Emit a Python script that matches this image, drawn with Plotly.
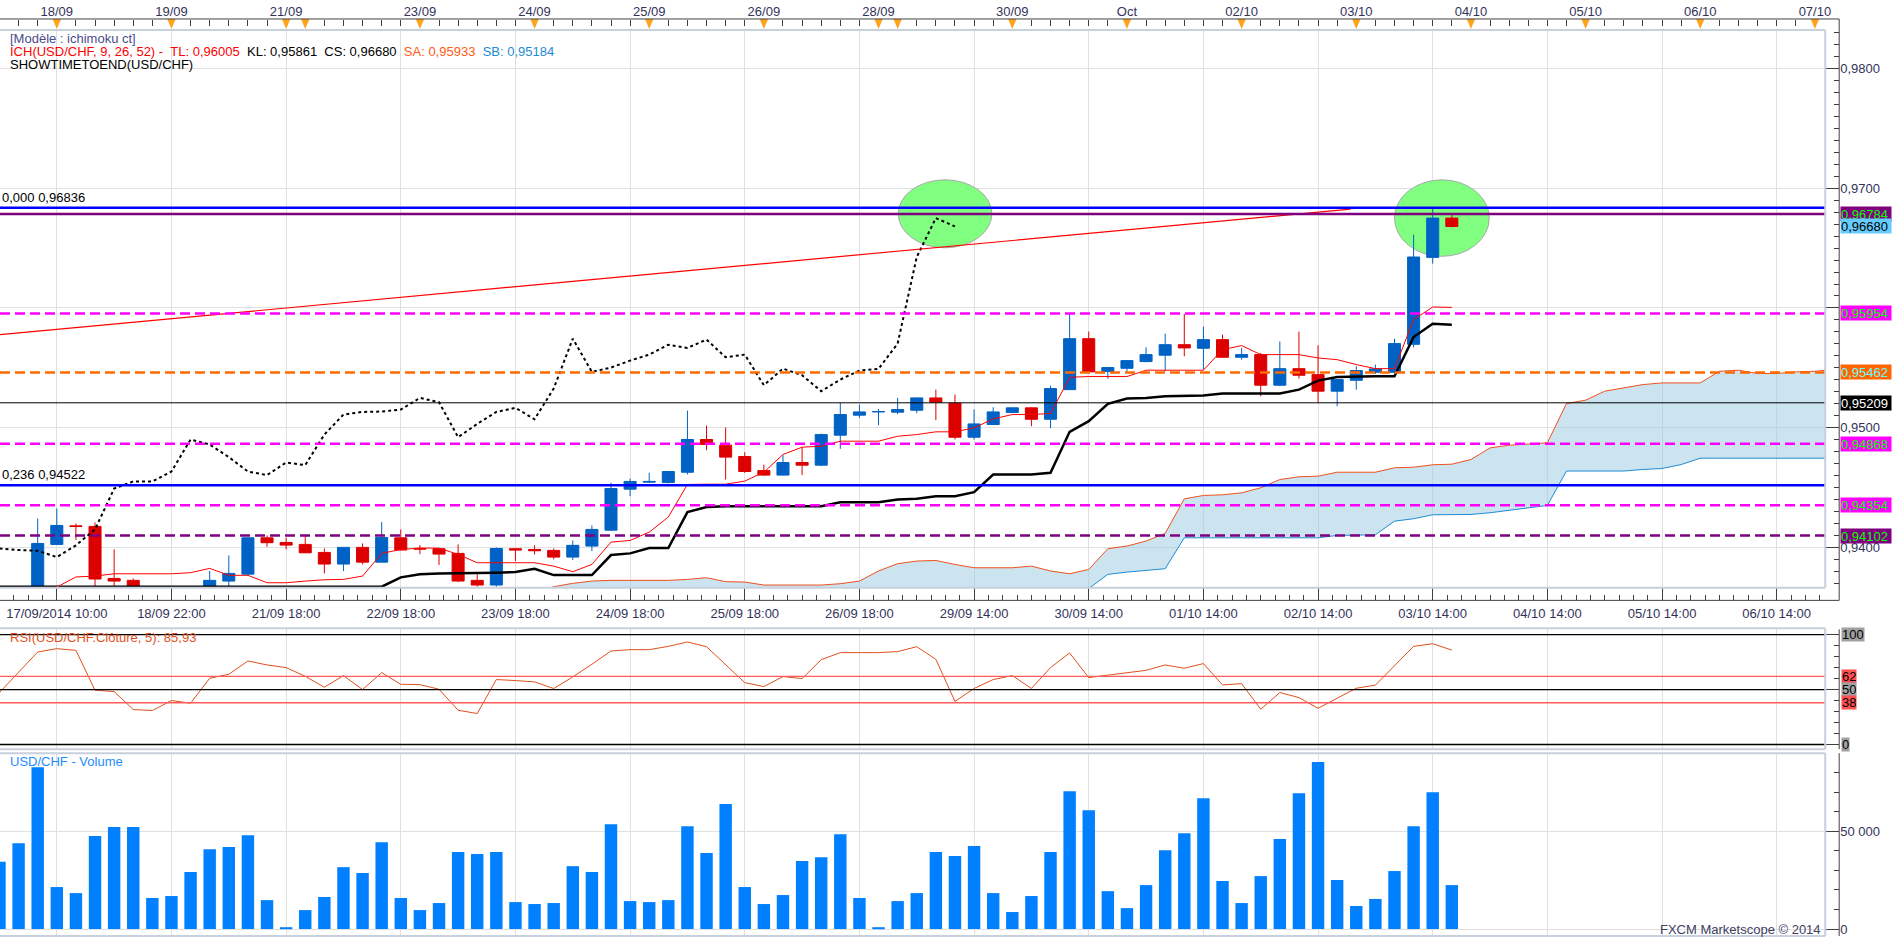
import plotly.graph_objects as go

W, H = 1903, 940

# 4h candles, bar index 0 = 17/09/2014 10:00 (last one = 03/10 18:00)
BARS = list(range(-3, 74))

OPEN = [0.9352, 0.9358, 0.9355,
        0.94028, 0.94183, 0.94178, 0.93744, 0.93728, 0.9365, 0.9356, 0.9361, 0.9368, 0.93722,
        0.9378, 0.94083, 0.94044, 0.94028, 0.93961, 0.93864, 0.94003, 0.9388, 0.94083, 0.93995,
        0.93992, 0.93953, 0.93728, 0.93689, 0.93992, 0.93986, 0.93978, 0.93922, 0.94014, 0.94147,
        0.94489, 0.94547, 0.94544, 0.9463, 0.94903, 0.94856, 0.94761, 0.94644, 0.94606, 0.94711,
        0.94689, 0.94939, 0.95106, 0.95133, 0.95131, 0.95147, 0.9525, 0.95206, 0.94922, 0.95028,
        0.95128, 0.95167, 0.95072, 0.95319, 0.95744, 0.9547, 0.95497, 0.95553, 0.95606, 0.95694,
        0.95664, 0.95736, 0.95589, 0.95611, 0.95356, 0.95494, 0.95444, 0.95306, 0.95397, 0.95464,
        0.95464, 0.95697, 0.96422, 0.9675]
HIGH = [0.9362, 0.9364, 0.94244,
        0.94328, 0.94203, 0.94211, 0.93986, 0.93744, 0.9366, 0.9364, 0.9366, 0.93806, 0.93936,
        0.94086, 0.94103, 0.94083, 0.94108, 0.93994, 0.94006, 0.94036, 0.94214, 0.94153, 0.94022,
        0.93995, 0.94028, 0.93778, 0.94003, 0.93994, 0.9402, 0.93994, 0.94061, 0.94186, 0.94542,
        0.94578, 0.94625, 0.9464, 0.95144, 0.95019, 0.95003, 0.94797, 0.94694, 0.94772, 0.94839,
        0.94953, 0.95208, 0.95194, 0.95158, 0.9525, 0.95253, 0.95319, 0.95278, 0.95153, 0.95172,
        0.9517, 0.9517, 0.95353, 0.9595, 0.95803, 0.95506, 0.95564, 0.95672, 0.95786, 0.9595,
        0.95844, 0.95778, 0.95667, 0.95625, 0.9572, 0.95803, 0.95689, 0.95406, 0.95514, 0.95528,
        0.95744, 0.96611, 0.96839, 0.96778]
LOW = [0.9345, 0.9349, 0.9350,
       0.94025, 0.94064, 0.9368, 0.9368, 0.9366, 0.9349, 0.9348, 0.9354, 0.9366, 0.9368,
       0.93764, 0.94008, 0.93986, 0.93955, 0.93786, 0.93806, 0.93861, 0.93877, 0.93978, 0.93947,
       0.93856, 0.93714, 0.93675, 0.93675, 0.93889, 0.93944, 0.93903, 0.93897, 0.93972, 0.94142,
       0.9443, 0.94542, 0.94536, 0.94611, 0.94814, 0.94569, 0.94625, 0.94603, 0.94603, 0.94606,
       0.94681, 0.94825, 0.95083, 0.95022, 0.95114, 0.95122, 0.95064, 0.94903, 0.94903, 0.95025,
       0.95125, 0.95014, 0.94997, 0.95316, 0.95464, 0.95411, 0.95464, 0.95547, 0.95472, 0.95597,
       0.95486, 0.95586, 0.95569, 0.95264, 0.95347, 0.95411, 0.95208, 0.9518, 0.95319, 0.9545,
       0.95461, 0.95672, 0.9637, 0.96672]
CLOSE = [0.9358, 0.9355, 0.94036,
         0.94186, 0.94177, 0.93739, 0.93722, 0.9368, 0.9356, 0.9361, 0.9362, 0.93728, 0.93786,
         0.94083, 0.94042, 0.94022, 0.93958, 0.93864, 0.94003, 0.9388, 0.94086, 0.93981, 0.93989,
         0.93947, 0.93722, 0.93689, 0.93994, 0.93981, 0.93975, 0.93922, 0.9402, 0.94153, 0.94494,
         0.94553, 0.94553, 0.94636, 0.94903, 0.94861, 0.94756, 0.94636, 0.94606, 0.94711, 0.94689,
         0.94944, 0.95111, 0.95133, 0.95136, 0.95153, 0.9525, 0.95214, 0.94922, 0.95033, 0.95133,
         0.95167, 0.95072, 0.95328, 0.95744, 0.95467, 0.95503, 0.95561, 0.95611, 0.95694, 0.95667,
         0.95736, 0.95589, 0.95611, 0.95356, 0.95494, 0.95439, 0.95306, 0.95403, 0.95478, 0.95492,
         0.95703, 0.96425, 0.9675, 0.9668]

TENKAN = [0.9358, 0.936, 0.9363,
          0.93672, 0.93756, 0.93764, 0.93783, 0.93783, 0.93783, 0.93783, 0.93792, 0.93828, 0.9377,
          0.9377, 0.93708, 0.93708, 0.93722, 0.93733, 0.93736, 0.93764, 0.93953, 0.93986, 0.93997,
          0.93997, 0.93944, 0.93875, 0.93875, 0.93875, 0.93875, 0.93847, 0.938, 0.93861, 0.94047,
          0.94061, 0.9413, 0.94256, 0.94528, 0.9453, 0.9453, 0.94556, 0.9463, 0.94778, 0.94839,
          0.94847, 0.94889, 0.94889, 0.94889, 0.9493, 0.94944, 0.94967, 0.94967, 0.95, 0.95075,
          0.95111, 0.95111, 0.9512, 0.95422, 0.95428, 0.95428, 0.95428, 0.95481, 0.95481, 0.95481,
          0.95481, 0.95653, 0.95686, 0.95611, 0.95611, 0.95611, 0.95583, 0.95569, 0.95528, 0.95494,
          0.95494, 0.95903, 0.96008, 0.96005]
KIJUN = [0.93675, 0.93675, 0.93675,
         0.93675, 0.93675, 0.93675, 0.93675, 0.93675, 0.93675, 0.93675, 0.93675, 0.93675, 0.93675,
         0.93675, 0.93675, 0.93675, 0.93675, 0.93675, 0.93675, 0.93675, 0.93675, 0.93753, 0.93778,
         0.93786, 0.93786, 0.93786, 0.93792, 0.93797, 0.93825, 0.93772, 0.93772, 0.93772, 0.93939,
         0.93953, 0.93997, 0.93997, 0.94297, 0.94339, 0.94347, 0.94347, 0.94347, 0.94347, 0.94347,
         0.94347, 0.9438, 0.9438, 0.9438, 0.94403, 0.94408, 0.9443, 0.9443, 0.94464, 0.94611,
         0.94611, 0.94611, 0.94625, 0.94967, 0.95056, 0.952, 0.95244, 0.9525, 0.95264, 0.9527,
         0.9527, 0.95286, 0.95286, 0.95286, 0.95286, 0.95319, 0.95394, 0.95425, 0.95431, 0.95431,
         0.95431, 0.95758, 0.95869, 0.95861]

# cloud, projected 26 bars ahead
SPAN_X = list(range(25, 94))
SENKOU_A = [0.9362,
            0.93675, 0.93703, 0.93722, 0.93728,
            0.93728, 0.93728, 0.93728, 0.93736, 0.9375, 0.93717, 0.93714, 0.93689, 0.93689, 0.93689,
            0.93689, 0.937, 0.93722, 0.93806, 0.93867, 0.93889, 0.93894, 0.93861, 0.93833, 0.93833,
            0.93833, 0.93847, 0.93806, 0.93783, 0.93819, 0.93992, 0.94014, 0.94056, 0.9412, 0.94408,
            0.94436, 0.94442, 0.94458, 0.945, 0.94569, 0.94592, 0.94597, 0.9463, 0.9463, 0.9463,
            0.94667, 0.94672, 0.94692, 0.94697, 0.94736, 0.94833, 0.94855, 0.94864, 0.94875, 0.95203,
            0.95231, 0.95306, 0.95333, 0.95361, 0.95375, 0.95375, 0.95375, 0.95472, 0.95481, 0.95453,
            0.95453, 0.95467, 0.95472, 0.95486]
SENKOU_B = [0.9351,
            0.9351, 0.9351, 0.9351, 0.9351,
            0.9351, 0.9351, 0.9351, 0.9351, 0.9351, 0.9352, 0.9352, 0.9352, 0.9352, 0.9352,
            0.9352, 0.9352, 0.9352, 0.9352, 0.9353, 0.9353, 0.9353, 0.9353, 0.9353, 0.9353,
            0.9354, 0.9354, 0.9354, 0.9354, 0.9366, 0.93778, 0.93797, 0.93814, 0.93825, 0.94083,
            0.94083, 0.94083, 0.94083, 0.94083, 0.94083, 0.94083, 0.94083, 0.94103, 0.94108, 0.94108,
            0.94222, 0.94242, 0.94275, 0.94278, 0.94278, 0.94292, 0.94314, 0.94333, 0.94353, 0.9464,
            0.9464, 0.9464, 0.9464, 0.94653, 0.94661, 0.94694, 0.94747, 0.94747, 0.94747, 0.94747,
            0.94747, 0.94747, 0.94747, 0.94747]

RSI = [47.3, 65.7, 84.2,
       87.2, 85.7, 49.4, 48.2, 31.8, 30.9, 40.0, 37.6, 60.3, 63.9,
       76.0, 72.4, 70.0, 62.1, 52.1, 62.7, 50.0, 65.4, 54.8, 54.5,
       50.3, 31.2, 28.2, 59.1, 58.2, 57.0, 50.9, 61.5, 73.0, 85.1,
       86.3, 86.3, 89.3, 93.3, 89.0, 73.0, 56.3, 52.7, 61.8, 60.0,
       77.2, 83.6, 83.6, 83.6, 84.5, 89.0, 77.5, 39.2, 51.0, 59.1,
       62.7, 51.0, 70.0, 83.3, 60.9, 63.0, 65.7, 67.5, 72.4, 69.4,
       73.6, 54.2, 55.4, 32.1, 47.3, 42.7, 33.0, 41.8, 51.2, 54.0,
       71.5, 89.3, 91.7, 85.93]
VOLUME = [34500, 44000, 82900,
          21500, 18400, 47600, 52200, 52200, 15900, 16900, 29200, 40900, 42000,
          48100, 14800, 500, 9700, 16400, 31700, 28700, 44500, 15900, 9700,
          13300, 39400, 38400, 39400, 13800, 12800, 13300, 32200, 29200, 53700,
          14300, 13800, 14800, 52700, 38900, 64000, 21500, 12800, 17400, 34800,
          36800, 48600, 15900, 500, 14300, 18400, 39400, 37400, 42500, 18400,
          8700, 16900, 39400, 70600, 60900, 19400, 10700, 22500, 40400, 49100,
          67000, 24600, 13300, 27100, 46100, 69600, 85500, 25100, 11800, 15400,
          29700, 52700, 70100, 22500]

TREND_X = [-2.97, 67.7]
TREND_Y = [0.95778, 0.96825]

BOTTOM_TICKS = list(range(0, 91, 6))
BOTTOM_LABELS = ["17/09/2014 10:00", "18/09 22:00", "21/09 18:00", "22/09 18:00",
                 "23/09 18:00", "24/09 18:00", "25/09 18:00", "26/09 18:00",
                 "29/09 14:00", "30/09 14:00", "01/10 14:00", "02/10 14:00",
                 "03/10 14:00", "04/10 14:00", "05/10 14:00", "06/10 14:00"]
TOP_TICKS = [0, 6, 12, 19, 25, 31, 37, 43, 50, 56, 62, 68, 74, 80, 86, 92]
TOP_LABELS = ["18/09", "19/09", "21/09", "23/09", "24/09", "25/09", "26/09", "28/09",
              "30/09", "Oct", "02/10", "03/10", "04/10", "05/10", "06/10", "07/10"]
DAY_MARKS = TOP_TICKS + [13, 44]

PRICE_TICKS = [0.94, 0.95, 0.96, 0.97, 0.98]
PRICE_LABELS = ["0,9400", "0,9500", "", "0,9700", "0,9800"]  # 0,9600 sits under a tag

# horizontal levels drawn on the chart
LEVELS = [0.96836, 0.96784, 0.95954, 0.95462, 0.95209, 0.94868, 0.94522, 0.94354, 0.94102]
LEVEL_STYLE = [("#0000ff", 2.5, "solid"), ("#800080", 2.5, "solid"),
               ("#ff00ff", 2.5, "10px,5px"), ("#ff6a00", 2.5, "10px,5px"),
               ("#000000", 1, "solid"), ("#ff00ff", 2.5, "10px,5px"),
               ("#0000ff", 2.5, "solid"), ("#ff00ff", 2.5, "10px,5px"),
               ("#800080", 2.5, "10px,5px")]
# price tags on the right axis
TAGS = [0.96784, 0.96680, 0.95954, 0.95462, 0.95209, 0.94868, 0.94354, 0.94102]
TAG_STYLE = [("#800080", "#00ff00"), ("#66ccff", "#000000"), ("#ff00ff", "#00ff00"),
             ("#ff6600", "#66ffff"), ("#000000", "#ffffff"), ("#ff00ff", "#00ff00"),
             ("#ff00ff", "#00ff00"), ("#800080", "#00ff00")]
RSI_TAGS = [100, 62, 50, 38, 0]
RSI_TAG_BG = ["#a0a0a0", "#ff5050", "#a0a0a0", "#ff5050", "#a0a0a0"]

FONT = "Liberation Sans, Arial, sans-serif"
AXIS_TXT = "#33335a"
XRANGE = [-2.973, 92.54]
YRANGE = [0.93667, 0.98319]
RSI_RANGE = [-4.27, 104.8]
VOL_RANGE = [-3582, 90072]


def fr(v, n=5):
    return f"{v:.{n}f}".replace(".", ",")


def px(x):
    return x / W


def py(y):
    return 1 - y / H


XR = px(1831)
AXIS_X = px(1845)

fig = go.Figure()

# cloud
fig.add_trace(go.Scatter(x=SPAN_X, y=SENKOU_B, mode="lines",
                         line=dict(color="#1e8cd2", width=1), hoverinfo="skip"))
fig.add_trace(go.Scatter(x=SPAN_X, y=SENKOU_A, mode="lines", fill="tonexty",
                         fillcolor="rgba(153,201,225,0.5)",
                         line=dict(color="#f0501e", width=1), hoverinfo="skip"))

fig.add_trace(go.Candlestick(
    x=BARS, open=OPEN, high=HIGH, low=LOW, close=CLOSE,
    increasing=dict(line=dict(color="#0062c4", width=1), fillcolor="#0062c4"),
    decreasing=dict(line=dict(color="#dd0000", width=1), fillcolor="#dd0000"),
    whiskerwidth=0, hoverinfo="skip"))

# chikou = close shifted back 26 bars
fig.add_trace(go.Scatter(x=BARS[:-26], y=CLOSE[26:], mode="lines",
                         line=dict(color="#000000", width=2, dash="dot"), hoverinfo="skip"))
fig.add_trace(go.Scatter(x=BARS, y=KIJUN, mode="lines",
                         line=dict(color="#000000", width=2.5), hoverinfo="skip"))
fig.add_trace(go.Scatter(x=BARS, y=TENKAN, mode="lines",
                         line=dict(color="#ff0000", width=1), hoverinfo="skip"))
fig.add_trace(go.Scatter(x=TREND_X, y=TREND_Y, mode="lines",
                         line=dict(color="#ff0000", width=1.2), hoverinfo="skip"))

fig.add_trace(go.Scatter(x=BARS, y=RSI, mode="lines", xaxis="x2", yaxis="y2",
                         line=dict(color="#e0501e", width=1), hoverinfo="skip"))
fig.add_trace(go.Bar(x=BARS, y=VOLUME, xaxis="x3", yaxis="y3",
                     marker=dict(color="#0080ff", line=dict(width=0)), hoverinfo="skip"))

# empty traces so the extra axes get drawn
for xa, ya in [("x4", "y"), ("x5", "y"), ("x", "y4"), ("x2", "y5"), ("x3", "y6")]:
    fig.add_trace(go.Scatter(x=[None], y=[None], xaxis=xa, yaxis=ya, hoverinfo="skip"))

tickfont = dict(family=FONT, size=13, color=AXIS_TXT)
grid = dict(showgrid=True, gridcolor="#e0e0e0", gridwidth=1, zeroline=False, showline=False)
plain_x = dict(domain=[0, XR], range=XRANGE, tickmode="array", tickvals=BOTTOM_TICKS,
               showticklabels=False, ticks="", **grid)

shapes = []
# analyst circles
for x0, x1, y0, y1 in [(44.03, 48.93, 0.96502, 0.97069), (70.0, 74.96, 0.96431, 0.97069)]:
    shapes.append(dict(type="circle", xref="x", yref="y", x0=x0, x1=x1, y0=y0, y1=y1,
                       fillcolor="#80ff80", line=dict(color="#a8a8a8", width=1), layer="between"))
for lv, (c, w, d) in zip(LEVELS, LEVEL_STYLE):
    shapes.append(dict(type="line", xref="x domain", yref="y", x0=0, x1=1, y0=lv, y1=lv,
                       line=dict(color=c, width=w, dash=d), layer="above"))
for lv, c in zip([100, 62, 50, 38, 0], ["#000000", "#ff5a5a", "#000000", "#ff5a5a", "#000000"]):
    shapes.append(dict(type="line", xref="x2 domain", yref="y2", x0=0, x1=1, y0=lv, y1=lv,
                       line=dict(color=c, width=1.3), layer="above"))
# day markers on the top scale
for d in DAY_MARKS:
    shapes.append(dict(type="path", xref="x", yref="paper",
                       path=f"M {d - 0.22},{py(19)} L {d + 0.22},{py(19)} L {d},{py(29)} Z",
                       fillcolor="#ffa31a", line=dict(width=0), layer="above"))
# panel frames
light = dict(color="#c8d0dc", width=2)
dark = dict(color="#404040", width=1)
for top, bot in [(30, 588.3), (629, 750), (754, 937)]:
    shapes.append(dict(type="line", xref="paper", yref="paper", x0=0, x1=XR, y0=py(top), y1=py(top), line=light))
    shapes.append(dict(type="line", xref="paper", yref="paper", x0=0, x1=XR, y0=py(bot), y1=py(bot), line=light))
    shapes.append(dict(type="line", xref="paper", yref="paper", x0=XR, x1=XR, y0=py(top), y1=py(bot), line=light))
shapes.append(dict(type="line", xref="paper", yref="paper", x0=0, x1=AXIS_X, y0=py(19), y1=py(19), line=dark))
shapes.append(dict(type="line", xref="paper", yref="paper", x0=0, x1=AXIS_X, y0=py(601), y1=py(601), line=dark))
for top, bot in [(19, 601), (630, 750), (754, 937)]:
    shapes.append(dict(type="line", xref="paper", yref="paper", x0=AXIS_X, x1=AXIS_X,
                       y0=py(top), y1=py(bot), line=dark))

ann = []


def text(x, y, s, color="#000000", xanchor="left", size=13, **kw):
    ann.append(dict(x=x, y=y, xref="paper", yref="paper", text=s, showarrow=False,
                    xanchor=xanchor, yanchor="middle", font=dict(family=FONT, size=size, color=color), **kw))


nb = "\u00a0\u00a0"
text(px(8), py(39), "[Modèle : ichimoku ct]", color="#4b4b8c")
text(px(8), py(52),
     f'<span style="color:#ff0000">ICH(USD/CHF, 9, 26, 52) -{nb}TL: {fr(TENKAN[-1])}</span>'
     f'{nb}KL: {fr(KIJUN[-1])}{nb}CS: {fr(CLOSE[-1])}{nb}'
     f'<span style="color:#ff5a14">SA: 0,95933</span>{nb}'
     f'<span style="color:#1e8cd2">SB: 0,95184</span>')
text(px(8), py(65), "SHOWTIMETOEND(USD/CHF)")
for lv, lbl in [(LEVELS[0], "0,000"), (LEVELS[6], "0,236")]:
    ann.append(dict(x=0, y=lv, xref="paper", yref="y", text=f"{lbl} {fr(lv)}", showarrow=False,
                    xanchor="left", yanchor="bottom", yshift=1,
                    font=dict(family=FONT, size=13, color="#000000")))
for i, (v, (bg, fg)) in enumerate(zip(TAGS, TAG_STYLE)):
    ann.append(dict(x=px(1846), y=v + (0.00006 if i == 1 else 0), xref="paper", yref="y",
                    text=fr(v), showarrow=False, xanchor="left", yanchor="middle",
                    bgcolor=bg, borderpad=0, width=50, height=14, align="left",
                    font=dict(family=FONT, size=13, color=fg)))
for v, bg in zip(RSI_TAGS, RSI_TAG_BG):
    ann.append(dict(x=px(1847), y=v, xref="paper", yref="y2", text=str(v), showarrow=False,
                    xanchor="left", yanchor="middle", bgcolor=bg, borderpad=0, height=13,
                    font=dict(family=FONT, size=13, color="#000000")))
text(px(8), py(638), f"RSI(USD/CHF.Clôture, 5): {fr(RSI[-1], 2)}", color="#e0501e")
text(px(8), py(762), "USD/CHF - Volume", color="#1e8cff")
text(px(1829), py(930), "FXCM Marketscope © 2014", color="#404060", xanchor="right")

fig.update_layout(
    width=W, height=H, autosize=False,
    margin=dict(l=0, r=0, t=0, b=0, pad=0),
    paper_bgcolor="#ffffff", plot_bgcolor="#ffffff",
    showlegend=False, hovermode=False,
    boxgap=0.37, boxgroupgap=0, bargap=0.35,
    xaxis=dict(anchor="y", rangeslider=dict(visible=False), **plain_x),
    xaxis2=dict(anchor="y2", **plain_x),
    xaxis3=dict(anchor="y3", **plain_x),
    xaxis4=dict(overlaying="x", anchor="free", position=py(19), side="top", range=XRANGE,
                tickmode="array", tickvals=TOP_TICKS, ticktext=TOP_LABELS,
                ticks="inside", ticklen=6, tickcolor="#404040", tickfont=tickfont,
                minor=dict(tickmode="linear", tick0=0, dtick=1, ticks="inside", ticklen=6,
                           tickcolor="#404040"),
                showgrid=False, zeroline=False, showline=False),
    xaxis5=dict(overlaying="x", anchor="free", position=py(601), side="bottom", range=XRANGE,
                tickmode="array", tickvals=BOTTOM_TICKS, ticktext=BOTTOM_LABELS,
                ticks="inside", ticklen=13, tickcolor="#404040", tickfont=tickfont,
                ticklabelstandoff=4,
                minor=dict(tickmode="linear", tick0=0, dtick=0.75, ticks="inside", ticklen=5,
                           tickcolor="#404040"),
                showgrid=False, zeroline=False, showline=False),
    yaxis=dict(domain=[py(588.3), py(30)], range=YRANGE, anchor="x", tickmode="array",
               tickvals=PRICE_TICKS, showticklabels=False, ticks="", **grid),
    yaxis2=dict(domain=[py(750), py(630)], range=RSI_RANGE, anchor="x2",
                showgrid=False, zeroline=False, showticklabels=False, ticks=""),
    yaxis3=dict(domain=[py(937), py(754)], range=VOL_RANGE, anchor="x3", tickmode="array",
                tickvals=[0, 50000], showticklabels=False, ticks="", **grid),
    yaxis4=dict(overlaying="y", anchor="free", position=AXIS_X, side="right", range=YRANGE,
                tickmode="array", tickvals=PRICE_TICKS, ticktext=PRICE_LABELS,
                ticks="inside", ticklen=14, tickcolor="#404040", tickfont=tickfont,
                minor=dict(tickmode="linear", tick0=0.94, dtick=0.001, ticks="inside", ticklen=5,
                           tickcolor="#404040"),
                showgrid=False, zeroline=False, showline=False),
    yaxis5=dict(overlaying="y2", anchor="free", position=AXIS_X, side="right", range=RSI_RANGE,
                tickmode="array", tickvals=[0, 50, 100], showticklabels=False,
                ticks="inside", ticklen=14, tickcolor="#404040",
                minor=dict(tickmode="linear", tick0=0, dtick=10, ticks="inside", ticklen=5,
                           tickcolor="#404040"),
                showgrid=False, zeroline=False, showline=False),
    yaxis6=dict(overlaying="y3", anchor="free", position=AXIS_X, side="right", range=VOL_RANGE,
                tickmode="array", tickvals=[0, 50000], ticktext=["0", "50 000"],
                ticks="inside", ticklen=14, tickcolor="#404040", tickfont=tickfont,
                minor=dict(tickmode="linear", tick0=0, dtick=10000, ticks="inside", ticklen=5,
                           tickcolor="#404040"),
                showgrid=False, zeroline=False, showline=False),
    shapes=shapes,
    annotations=ann,
)

fig.write_html("out.html", config={"displayModeBar": False},
               post_script="document.body.style.margin='0';document.body.style.overflow='hidden';")
